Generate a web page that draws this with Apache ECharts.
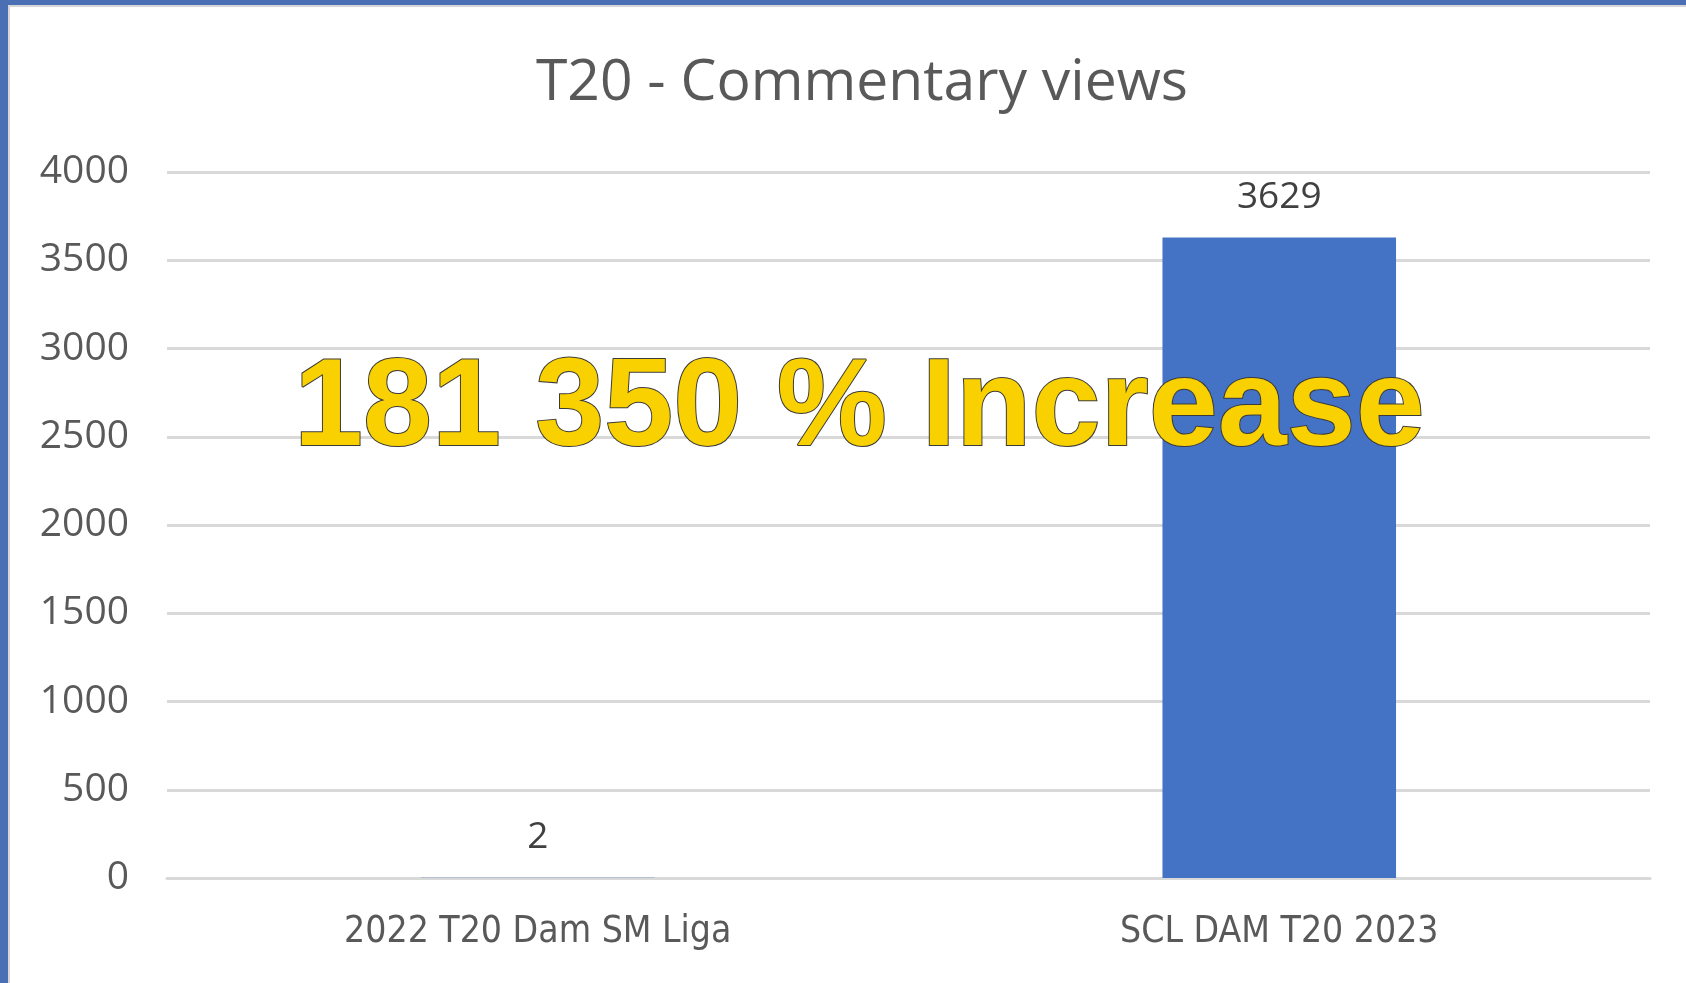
<!DOCTYPE html>
<html>
<head>
<meta charset="utf-8">
<script src="https://cdn.jsdelivr.net/npm/echarts@6/dist/echarts.min.js"></script>
<style>
html,body{margin:0;padding:0;background:#fff;}
#main{width:1686px;height:983px;}
</style>
</head>
<body>
<div id="main"></div>
<script>
const titleText = 'T20 - Commentary views';
const categories = ['2022 T20 Dam SM Liga', 'SCL DAM T20 2023'];
const views = [2, 3629];
const overlayText = '181 350 % Increase';
const yMin = 0, yMax = 4000, yStep = 500;

const chart = echarts.init(document.getElementById('main'), null, {renderer: 'canvas'});
chart.setOption({
  backgroundColor: '#ffffff',
  animation: false,
  title: {
    text: titleText,
    left: 857, top: 79, textAlign: 'center', textVerticalAlign: 'middle',
    textStyle: {fontFamily: 'Open Sans', fontWeight: 'normal', fontSize: 57, color: '#595959'}
  },
  grid: {left: 167, right: 36, top: 172, bottom: 105, containLabel: false},
  xAxis: {
    type: 'category', data: categories,
    axisLine: {show: true, lineStyle: {color: '#d9d9d9', width: 3}},
    axisTick: {show: false},
    axisLabel: {color: '#595959', fontSize: 37, fontFamily: '"DejaVu Sans Condensed", "Open Sans", sans-serif', margin: 36}
  },
  yAxis: {
    type: 'value', min: yMin, max: yMax, interval: yStep,
    axisLine: {show: false}, axisTick: {show: false},
    splitLine: {lineStyle: {color: '#d9d9d9', width: 3}},
    axisLabel: {color: '#595959', fontSize: 39, fontFamily: 'Open Sans', margin: 38,
      formatter: function (v) { return String(v); }}
  },
  series: [{
    type: 'bar', data: views, barWidth: '31.5%',
    itemStyle: {color: '#4472C4'},
    label: {show: true, position: 'top', distance: 22, color: '#404040', fontSize: 37, fontFamily: 'Open Sans'}
  }],
  graphic: [
    {type: 'rect', shape: {x: 0, y: 0, width: 1686, height: 5}, style: {fill: '#4a6fb5'}, z: 100},
    {type: 'rect', shape: {x: 0, y: 0, width: 8, height: 983}, style: {fill: '#4a6fb5'}, z: 100},
    {type: 'rect', shape: {x: 8, y: 5, width: 1678, height: 2}, style: {fill: '#d6d6d6'}, z: 100},
    {type: 'rect', shape: {x: 8, y: 5, width: 2, height: 978}, style: {fill: '#d6d6d6'}, z: 100},
    {
      type: 'text', left: 293, top: 348, z: 200,
      style: {
        text: overlayText,
        font: 'bold 124px "Liberation Sans", Arial, sans-serif',
        fill: '#F9D000', stroke: '#3a3a3a', lineWidth: 2,
        shadowColor: 'rgba(0,0,0,0.45)', shadowBlur: 4, shadowOffsetX: 2, shadowOffsetY: 2
      }
    }
  ]
});
</script>
</body>
</html>
